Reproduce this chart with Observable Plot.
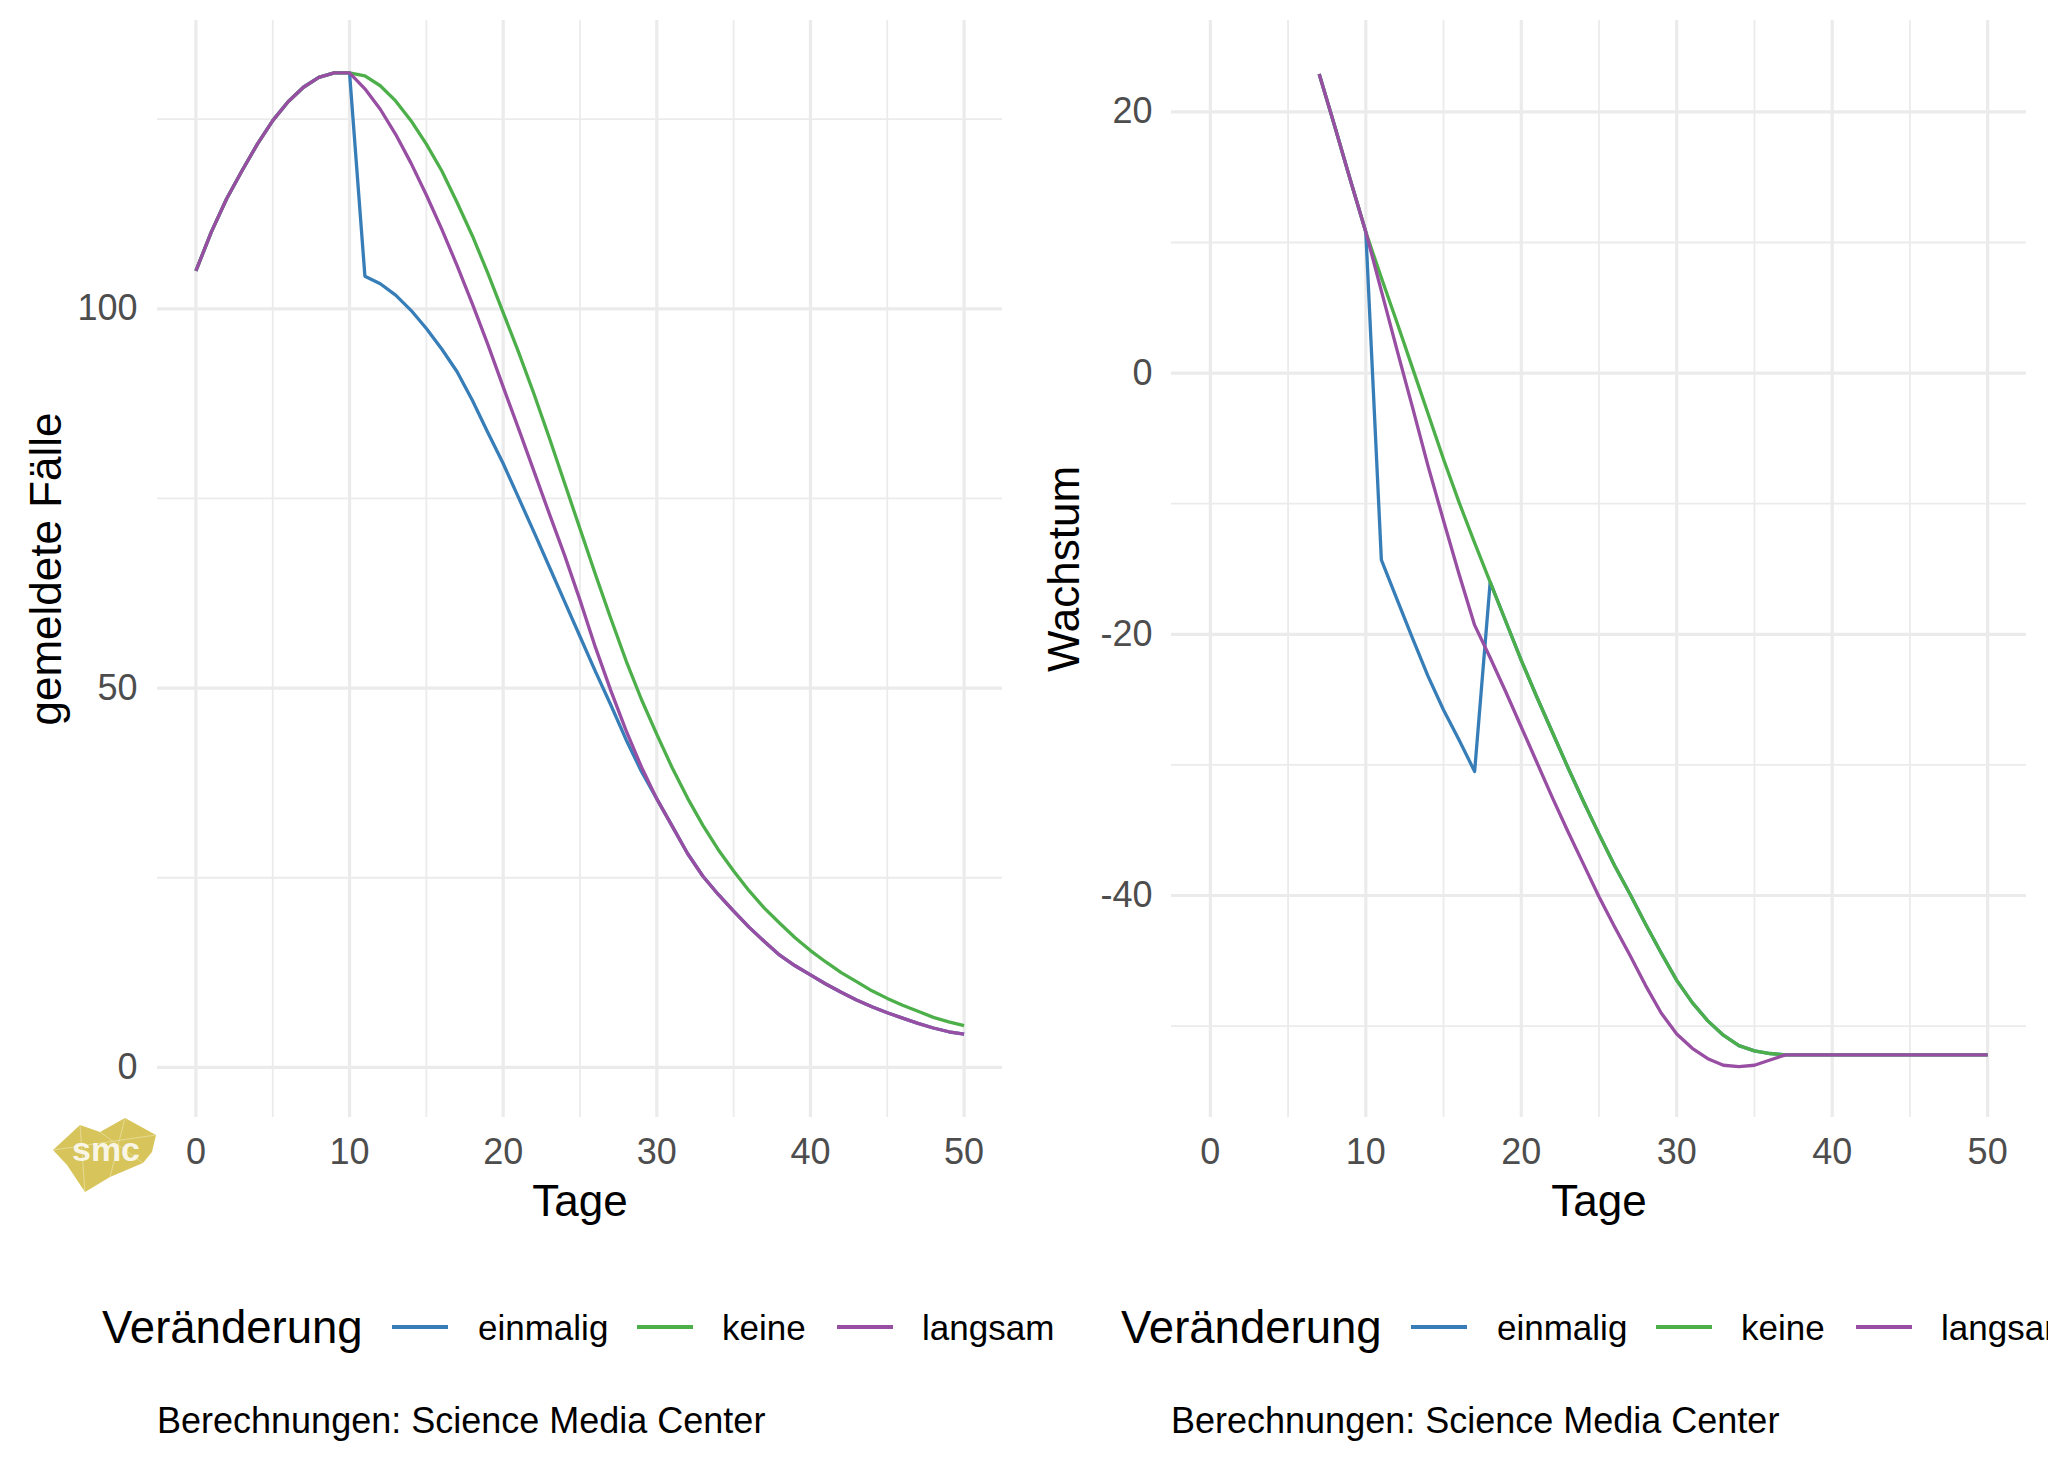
<!DOCTYPE html>
<html>
<head>
<meta charset="utf-8">
<script src="https://cdn.jsdelivr.net/npm/d3@7"></script>
<script src="https://cdn.jsdelivr.net/npm/@observablehq/plot@0.6"></script>
<style>
  body { margin: 0; background: #fff; }
  #wrap { position: relative; width: 2048px; height: 1462px; overflow: hidden; background: #fff;
          font-family: "Liberation Sans", Arial, sans-serif; }
  .abs { position: absolute; white-space: nowrap; line-height: 1; }
  .plot { position: absolute; top: 0; }
</style>
</head>
<body>
<div id="wrap"></div>
<script>
// ---------- data ----------
const seriesNames  = ["einmalig", "keine", "langsam"];
const seriesColors = ["#377EB8", "#4DAF4A", "#984EA3"];

const xTicksMajor = [0, 10, 20, 30, 40, 50];
const xTicksMinor = [5, 15, 25, 35, 45];

// left panel: gemeldete Fälle
const casesDays = [0,1,2,3,4,5,6,7,8,9,10,11,12,13,14,15,16,17,18,19,20,21,22,23,24,25,26,27,28,29,30,
                   31,32,33,34,35,36,37,38,39,40,41,42,43,44,45,46,47,48,49,50];
const casesEinmalig = [105.0,110.1,114.5,118.2,121.7,124.8,127.3,129.2,130.5,131.1,131.1,
  104.3,103.3,101.8,99.8,97.4,94.7,91.7,87.9,83.7,79.6,75.1,70.6,66.0,61.4,56.8,52.2,47.8,43.2,39.0,35.4,
  31.8,28.2,25.2,22.8,20.6,18.5,16.6,14.8,13.4,12.2,11.0,9.9,8.9,8.0,7.2,6.5,5.8,5.2,4.7,4.4];
const casesKeine = [105.0,110.1,114.5,118.2,121.7,124.8,127.3,129.2,130.5,131.1,131.1,
  130.7,129.4,127.4,124.8,121.7,118.2,114.0,109.6,104.7,99.5,94.3,88.8,83.0,77.0,71.0,65.0,59.2,53.6,48.5,43.9,
  39.5,35.5,31.9,28.7,25.9,23.3,21.0,19.0,17.1,15.4,13.9,12.5,11.3,10.1,9.1,8.2,7.4,6.6,6.0,5.5];
const casesLangsam = [105.0,110.1,114.5,118.2,121.7,124.8,127.3,129.2,130.5,131.1,131.1,
  129.0,126.3,123.0,119.2,115.0,110.5,105.7,100.6,95.3,89.7,84.2,78.6,73.0,67.5,61.6,55.4,49.7,44.4,39.6,35.4,
  31.8,28.2,25.2,22.8,20.6,18.5,16.6,14.8,13.4,12.2,11.0,9.9,8.9,8.0,7.2,6.5,5.8,5.2,4.7,4.4];
const casesYTicksMajor = [0, 50, 100];
const casesYTicksMinor = [25, 75, 125];

// right panel: Wachstum
const growthDays = [7,8,9,10,11,12,13,14,15,16,17,18,19,20,21,22,23,24,25,26,27,28,29,30,
                    31,32,33,34,35,36,37,38,39,40,41,42,43,44,45,46,47,48,49,50];
const growthEinmalig = [22.9,18.9,14.8,10.8,
  -14.3,-17.3,-20.3,-23.2,-25.8,-28.1,-30.5,-16.0,-19.0,-22.0,-24.8,-27.5,-30.2,-32.8,-35.3,-37.7,-39.9,-42.2,-44.4,-46.5,
  -48.2,-49.6,-50.7,-51.5,-51.9,-52.1,-52.2,-52.2,-52.2,-52.2,-52.2,-52.2,-52.2,-52.2,-52.2,-52.2,-52.2,-52.2,-52.2,-52.2];
const growthKeine = [22.9,18.9,14.8,10.8,
  7.3,3.9,0.4,-3.1,-6.6,-9.9,-13.0,-16.0,-19.0,-22.0,-24.8,-27.5,-30.2,-32.8,-35.3,-37.7,-39.9,-42.2,-44.4,-46.5,
  -48.2,-49.6,-50.7,-51.5,-51.9,-52.1,-52.2,-52.2,-52.2,-52.2,-52.2,-52.2,-52.2,-52.2,-52.2,-52.2,-52.2,-52.2,-52.2,-52.2];
const growthLangsam = [22.9,18.9,14.8,10.8,
  6.3,1.8,-2.6,-7.1,-11.3,-15.4,-19.3,-21.8,-24.4,-27.1,-29.8,-32.5,-35.1,-37.6,-40.1,-42.4,-44.6,-46.9,-49.0,-50.6,
  -51.7,-52.5,-53.0,-53.1,-53.0,-52.6,-52.2,-52.2,-52.2,-52.2,-52.2,-52.2,-52.2,-52.2,-52.2,-52.2,-52.2,-52.2,-52.2,-52.2];
const growthYTicksMajor = [20, 0, -20, -40];
const growthYTicksMinor = [10, -10, -30, -50];

const legendTitle = "Veränderung";
const captionText = "Berechnungen: Science Media Center";
const xTitle = "Tage";

// ---------- helpers ----------
function toRows(days, arrays) {
  const rows = [];
  arrays.forEach((arr, k) => arr.forEach((v, i) => rows.push({day: days[i], value: v, series: seriesNames[k]})));
  return rows;
}

const FONT = '"Liberation Sans", Arial, sans-serif';
const GRID = "#EBEBEB";

function panel({rows, yDomain, yMajor, yMinor, yTitle, marginLeft, yTitleDx, yPad}) {
  return Plot.plot({
    width: 1024, height: 1240,
    marginLeft, marginRight: 22, marginTop: 20, marginBottom: 123,
    x: {domain: [-2.5, 52.5], axis: null},
    y: {domain: yDomain, axis: null},
    color: {domain: seriesNames, range: seriesColors},
    style: {fontFamily: FONT, background: "transparent", overflow: "visible"},
    marks: [
      Plot.gridX(xTicksMinor, {stroke: GRID, strokeOpacity: 1, strokeWidth: 1.8}),
      Plot.gridX(xTicksMajor, {stroke: GRID, strokeOpacity: 1, strokeWidth: 3.2}),
      Plot.gridY(yMinor, {stroke: GRID, strokeOpacity: 1, strokeWidth: 1.8}),
      Plot.gridY(yMajor, {stroke: GRID, strokeOpacity: 1, strokeWidth: 3.2}),
      Plot.axisX(xTicksMajor, {tickSize: 0, tickPadding: 21, fontSize: 36, color: "#4D4D4D", label: null}),
      Plot.axisY(yMajor, {tickSize: 0, tickPadding: yPad, fontSize: 36, color: "#4D4D4D", label: null,
                          tickFormat: d => String(d)}),
      Plot.text([xTitle], {text: d => d, frameAnchor: "bottom", dy: 84, fontSize: 44, fill: "black",
                           lineAnchor: "middle", textAnchor: "middle"}),
      Plot.text([yTitle], {text: d => d, frameAnchor: "left", dx: yTitleDx, rotate: -90, fontSize: 44,
                           fill: "black", lineAnchor: "middle", textAnchor: "middle"}),
      Plot.line(rows, {x: "day", y: "value", stroke: "series", z: "series", strokeWidth: 3.3,
                       strokeLinejoin: "round", strokeLinecap: "butt"})
    ]
  });
}

const wrap = document.getElementById("wrap");

const left = panel({
  rows: toRows(casesDays, [casesEinmalig, casesKeine, casesLangsam]),
  yDomain: [-6.6, 138.0], yMajor: casesYTicksMajor, yMinor: casesYTicksMinor,
  yTitle: "gemeldete Fälle", marginLeft: 157, yTitleDx: -111, yPad: 20
});
left.classList.add("plot"); left.style.left = "0px";
wrap.appendChild(left);

const right = panel({
  rows: toRows(growthDays, [growthEinmalig, growthKeine, growthLangsam]),
  yDomain: [-57.0, 27.0], yMajor: growthYTicksMajor, yMinor: growthYTicksMinor,
  yTitle: "Wachstum", marginLeft: 147, yTitleDx: -107, yPad: 19
});
right.classList.add("plot"); right.style.left = "1024px";
wrap.appendChild(right);

// ---------- legends & captions (HTML, below the plots) ----------
function addText(txt, x, yc, size, color) {
  const d = document.createElement("div");
  d.className = "abs";
  d.textContent = txt;
  d.style.left = x + "px";
  d.style.top = (yc - 0.49 * size) + "px";
  d.style.fontSize = size + "px";
  d.style.color = color;
  wrap.appendChild(d);
}
function addKey(x1, x2, yc, color) {
  const d = document.createElement("div");
  d.style.position = "absolute";
  d.style.left = x1 + "px";
  d.style.width = (x2 - x1) + "px";
  d.style.top = (yc - 1.8) + "px";
  d.style.height = "3.6px";
  d.style.background = color;
  wrap.appendChild(d);
}
function legend(offset) {
  const yc = 1327;
  addText(legendTitle, 102 + offset, yc, 45.5, "#000");
  const keyX = [392, 637, 837];
  const labX = [478, 722, 922];
  seriesNames.forEach((s, i) => {
    addKey(keyX[i] + offset, keyX[i] + 56 + offset, yc, seriesColors[i]);
    addText(s, labX[i] + offset, yc, 35, "#000");
  });
}
legend(0);
legend(1019);
addText(captionText, 157, 1421, 36, "#000");
addText(captionText, 1171, 1421, 36, "#000");

// ---------- smc logo ----------
const logo = document.createElementNS("http://www.w3.org/2000/svg", "svg");
logo.setAttribute("width", "110"); logo.setAttribute("height", "82");
logo.style.position = "absolute"; logo.style.left = "50px"; logo.style.top = "1114px";
logo.innerHTML = `
  <polygon points="3,36 30,11 50,18 75,4 106,21 102,38 93,49 60,63 35,78 17,51" fill="#D7C55B"/>
  <line x1="30" y1="11" x2="35" y2="78" stroke="#E9DE9F" stroke-width="0.8"/>
  <line x1="75" y1="4" x2="60" y2="63" stroke="#E9DE9F" stroke-width="0.8"/>
  <line x1="3" y1="36" x2="106" y2="21" stroke="#E9DE9F" stroke-width="0.8"/>
  <line x1="50" y1="18" x2="93" y2="49" stroke="#E9DE9F" stroke-width="0.8"/>
  <text x="56" y="47" text-anchor="middle" font-family="Liberation Sans, Arial, sans-serif"
        font-size="34" font-weight="bold" fill="#FFFFFF" fill-opacity="0.85">smc</text>`;
wrap.appendChild(logo);
</script>
</body>
</html>
